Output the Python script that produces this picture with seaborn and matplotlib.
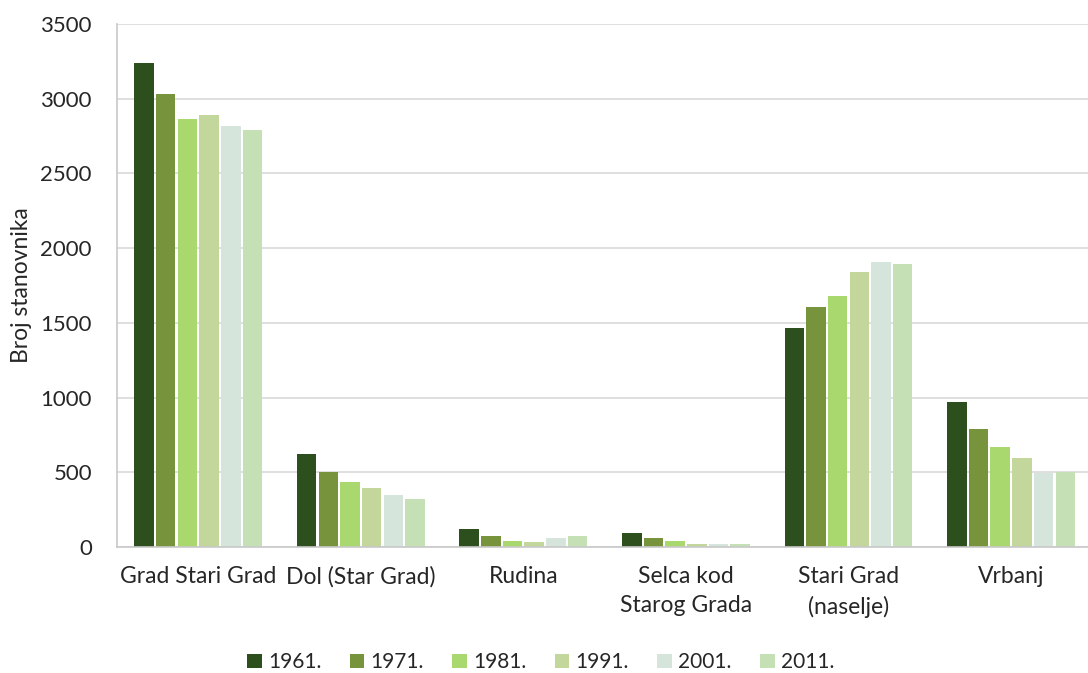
import matplotlib
matplotlib.use("Agg")
import matplotlib.pyplot as plt
import seaborn as sns
import pandas as pd
import numpy as np

settlements = ["Grad Stari Grad", "Dol (Star Grad)", "Rudina",
               "Selca kod\nStarog Grada", "Stari Grad\n(naselje)", "Vrbanj"]
years = ["1961.", "1971.", "1981.", "1991.", "2001.", "2011."]

pop_1961 = [3236, 620, 118, 92, 1468, 973]
pop_1971 = [3030, 500, 76, 58, 1608, 788]
pop_1981 = [2863, 437, 40, 40, 1678, 667]
pop_1991 = [2890, 393, 31, 22, 1839, 596]
pop_2001 = [2818, 350, 58, 22, 1908, 497]
pop_2011 = [2791, 323, 76, 22, 1892, 504]

colors = ["#2d4f1e", "#77933c", "#a8d86e", "#c3d69b", "#d6e5dc", "#c5e0b4"]

series = [pop_1961, pop_1971, pop_1981, pop_1991, pop_2001, pop_2011]
df = pd.DataFrame({
    "naselje": np.tile(settlements, len(years)),
    "godina": np.repeat(years, len(settlements)),
    "stanovnika": np.concatenate(series),
})

sns.set_style("white")
plt.rcParams["font.family"] = ["Lato", "DejaVu Sans"]

fig = plt.figure(figsize=(10.88, 6.73), dpi=100)
ax = fig.add_axes([0.1075, 0.1872, 0.8965, 0.7771])

sns.barplot(data=df, x="naselje", y="stanovnika", hue="godina",
            order=settlements, hue_order=years, palette=colors,
            width=0.8, gap=0.1, ax=ax, legend=True, saturation=1,
            edgecolor="none")

ax.set_xlim(-0.5, 5.5)
ax.set_ylim(0, 3500)
ax.set_yticks(np.arange(0, 3501, 500))
ax.yaxis.grid(True, color="#d9d9d9", linewidth=1.2)
ax.set_axisbelow(True)

for side in ["top", "right"]:
    ax.spines[side].set_visible(False)
for side in ["left", "bottom"]:
    ax.spines[side].set_color("#c8c8c8")
    ax.spines[side].set_linewidth(1.2)

ax.set_xticks(np.arange(len(settlements)))
ax.set_xticklabels(settlements, fontsize=16.5, color="#262626", linespacing=1.45)
ax.set_xticks(np.arange(-0.5, len(settlements)), minor=True)
ax.tick_params(axis="x", which="major", length=0, pad=14)
ax.tick_params(axis="x", which="minor", length=5, color="#c8c8c8", width=1)
ax.tick_params(axis="y", length=7, color="#c8c8c8", width=1, labelsize=16,
               labelcolor="#262626", pad=11)

ax.set_xlabel("")
ax.set_ylabel("Broj stanovnika", fontsize=16.5, color="#262626", labelpad=6)

handles, labels = ax.get_legend_handles_labels()
ax.legend_.remove()
fig.legend(handles, labels, loc="center", bbox_to_anchor=(0.497, 0.016),
           ncol=6, frameon=False, fontsize=15, handlelength=0.7,
           handleheight=0.7, handletextpad=0.3, columnspacing=1.36)

fig.savefig("out.png", dpi=100)
